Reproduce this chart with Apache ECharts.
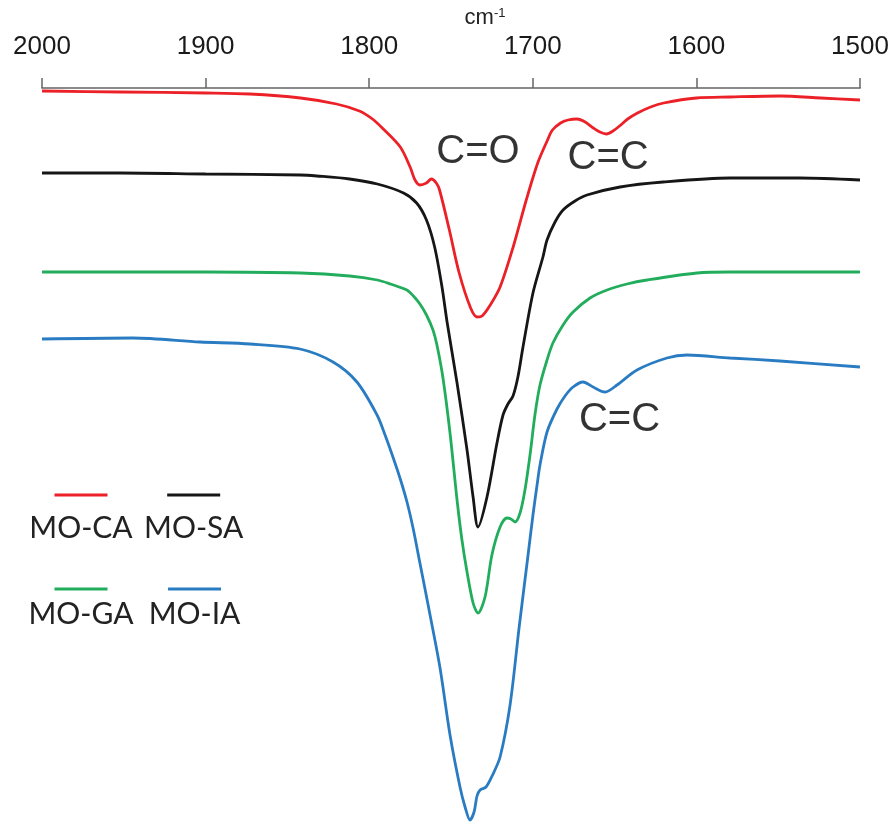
<!DOCTYPE html>
<html><head><meta charset="utf-8">
<script src="https://cdn.jsdelivr.net/npm/echarts@6/dist/echarts.min.js"></script>
<style>html,body{margin:0;padding:0;background:#fff}#c{width:895px;height:825px}</style>
</head><body><div id="c"></div>
<script>
// wavenumber (cm-1) vs transmittance (arbitrary units, curves offset)
const seriesNames = ['MO-CA', 'MO-SA', 'MO-GA', 'MO-IA'];
const xTicks = [2000, 1900, 1800, 1700, 1600, 1500];

const moCA = [
  [2000,734],[1952,733],[1900,732],[1873,731],[1842,727],[1820,721],[1806,714],[1798,706],[1792,697],
  [1781,678],[1775,658],[1772,645],[1769,640],[1765,642],[1762,646],[1759,642],[1757,635],
  [1751,595],[1745,552],[1738,517],[1734,508],[1731,509],[1726,520],[1720,538],[1712,578],
  [1704,625],[1697,662],[1691,685],[1688,695],[1683,702],[1678.5,705],[1673,706],[1668,703],
  [1663,697],[1659,693],[1655,691],[1651,694],[1647,699],[1642,706],[1636,712],[1628,718],
  [1620,722],[1600,727],[1579.5,728],[1549,729],[1524,727],[1500,725]
];
const moSA = [
  [2000,652],[1952,652],[1900,651],[1842,650],[1832,649],[1812,646],[1795,641],[1779,632],
  [1771,622],[1765,605],[1760,578],[1755.5,538],[1752.4,503],[1746.3,442],[1740.2,375],
  [1736.5,328],[1733.5,298],[1728,328],[1721.9,382],[1718.2,410],[1715.2,421],[1712.1,429],
  [1709.1,448],[1706,478],[1699.9,532],[1693.8,568],[1691.3,585],[1686.4,603],[1681.5,615],
  [1674.2,624],[1666.9,630],[1646.7,638],[1620.4,643],[1579.5,647],[1536.7,647],[1500,645]
];
const moGA = [
  [2000,553],[1900,553],[1842,552],[1812,549],[1795,545],[1787,541],[1777,535],[1773,529],
  [1769,521],[1765,510],[1761,495],[1758.6,480],[1755,448],[1750.6,392],[1746.3,325],
  [1743.3,285],[1740.2,253],[1736.5,222],[1733.5,212],[1729.2,228],[1725,270],[1720,298],
  [1715.8,307],[1713.3,306],[1710.9,303],[1707.8,312],[1704.8,335],[1701.7,370],[1698.7,410],
  [1695.6,440],[1691.3,465],[1687.7,482],[1681.5,500],[1675.4,513],[1665,527],[1654.6,535],
  [1642.4,541],[1630.2,545],[1599.6,552],[1579.5,553],[1500,553]
];
const moIA = [
  [2000,486],[1944.4,487],[1903.4,483],[1872.9,481],[1842.3,476],[1822.1,463],[1807.5,443],
  [1795.2,410],[1790.3,390],[1785.5,368],[1781.2,347],[1776.9,323],[1773.2,297],[1769,262],[1762.8,210],
  [1756.7,157],[1750.6,90],[1744.5,38],[1741.4,18],[1738.4,5],[1735.9,13],[1734.1,29],
  [1732.2,35],[1728.6,38],[1724.9,49],[1720,68],[1713.9,120],[1708.4,197],[1702.9,270],
  [1699.9,310],[1697.4,340],[1695.6,360],[1691.3,393],[1685.2,416],[1680.3,429],[1675.4,438],
  [1669.3,443],[1663.2,438],[1655.8,433],[1648.5,440],[1636.3,455],[1618,467],[1605.7,470],
  [1579.5,467],[1548.9,464],[1500,458]
];
const annotations = [
  { name: 'C=O', value: [1733.5, 673] },
  { name: 'C=C', value: [1654, 667] },
  { name: 'C=C', value: [1647, 405] }
];
const colors = ['#ec2128', '#161616', '#22ad5c', '#2a7cc2'];
const datasets = [moCA, moSA, moGA, moIA];

const chart = echarts.init(document.getElementById('c'), null, { renderer: 'canvas' });

function makeRich(barLH) {
  const rich = {
    t: { fontSize: 30, fontFamily: 'Lato', color: '#222', align: 'center', lineHeight: 30 }
  };
  colors.forEach((c, i) => {
    rich['b' + i] = { width: 53, height: 3, backgroundColor: c, align: 'center', lineHeight: barLH };
  });
  return rich;
}
const legendFormatter = name => {
  const i = seriesNames.indexOf(name);
  return '{b' + i + '|}\n{t|' + name + '}';
};
function makeLegend(top, data, barLH) {
  return {
    icon: 'none', itemWidth: 0, itemHeight: 10, itemGap: 0, orient: 'horizontal',
    formatter: legendFormatter, selectedMode: false, left: 15, top: top, data: data,
    textStyle: { rich: makeRich(barLH), width: 112, align: 'center' }
  };
}

chart.setOption({
  animation: false,
  backgroundColor: '#fff',
  grid: { left: 42, right: 35, top: 88, bottom: 0, containLabel: false },
  xAxis: {
    type: 'value', position: 'top', inverse: true, min: 1500, max: 2000, interval: 100,
    name: '{a|cm}{s|-1}', nameLocation: 'middle', nameGap: 59,
    nameTextStyle: { padding: [0, 0, 0, 68], rich: {
      a: { fontSize: 22, fontFamily: 'Liberation Sans', color: '#222' },
      s: { fontSize: 13, fontFamily: 'Liberation Sans', color: '#222', verticalAlign: 'top', padding: [0,0,9,0] }
    } },
    axisLine: { show: true, onZero: false, lineStyle: { color: '#8a8a8a', width: 2 } },
    axisTick: { show: true, inside: false, length: 10, lineStyle: { color: '#666', width: 1.5 } },
    axisLabel: { fontSize: 26, fontFamily: 'Liberation Sans', color: '#1a1a1a', margin: 28,
      formatter: v => xTicks.includes(v) ? String(v) : '' },
    splitLine: { show: false }
  },
  yAxis: { type: 'value', min: 0, max: 737, show: false },
  legend: [
    makeLegend(484, ['MO-CA', 'MO-SA'], 36),
    makeLegend(578, ['MO-GA', 'MO-IA'], 20)
  ],
  series: seriesNames.map((n, i) => ({
    name: n, type: 'line', data: datasets[i], showSymbol: false, smooth: 0.3,
    lineStyle: { color: colors[i], width: 2.8 }, itemStyle: { color: colors[i] }
  })).concat([{
    name: 'labels', type: 'scatter', data: annotations, symbolSize: 1,
    itemStyle: { color: 'rgba(0,0,0,0)' },
    label: { show: true, position: 'inside', formatter: p => p.name,
      fontSize: 40, fontFamily: 'Liberation Sans', color: '#000' }
  }])
});
</script></body></html>
